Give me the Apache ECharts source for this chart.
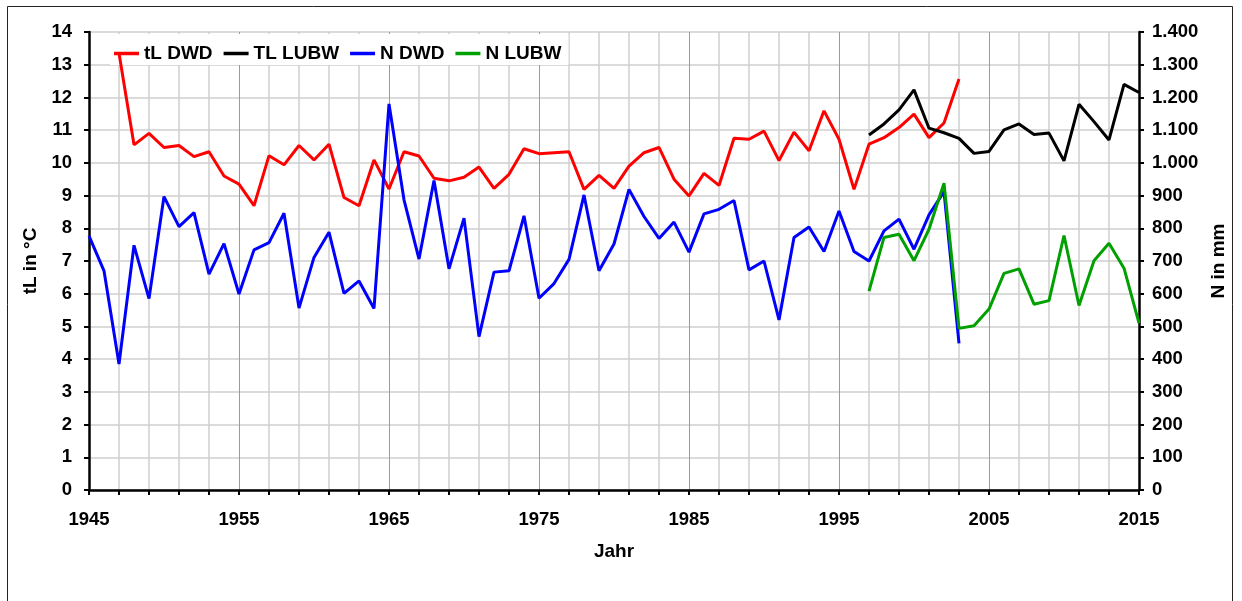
<!DOCTYPE html>
<html>
<head>
<meta charset="utf-8">
<script src="https://cdn.jsdelivr.net/npm/echarts@6/dist/echarts.min.js"></script>
<style>
html,body{margin:0;padding:0;background:#fff;}
#chart{width:1242px;height:601px;}
</style>
</head>
<body>
<div id="chart"></div>
<script>
// ---- data ----
var seriesNames = ['tL DWD', 'TL LUBW', 'N DWD', 'N LUBW'];

var tlDwdStart = 1947;
var tlDwd = [13.35, 10.55, 10.90, 10.47, 10.53, 10.19, 10.34, 9.60, 9.35, 8.69,
  10.22, 9.94, 10.53, 10.09, 10.57, 8.94, 8.69, 10.09, 9.20, 10.34,
  10.21, 9.53, 9.45, 9.56, 9.87, 9.22, 9.65, 10.43, 10.28, 10.31,
  10.34, 9.19, 9.62, 9.22, 9.90, 10.31, 10.47, 9.50, 8.99, 9.68,
  9.31, 10.75, 10.72, 10.97, 10.07, 10.94, 10.37, 11.59, 10.72, 9.19,
  10.57, 10.77, 11.08, 11.49, 10.77, 11.22, 12.56];

var tlLubwStart = 1997;
var tlLubw = [10.85, 11.19, 11.62, 12.23, 11.06, 10.92, 10.75, 10.29, 10.35, 11.01,
  11.19, 10.87, 10.91, 10.06, 11.79, 11.26, 10.70, 12.40, 12.15];

var nDwdStart = 1945;
var nDwd = [777, 670, 385, 748, 585, 897, 805, 848, 660, 753,
  599, 734, 756, 846, 556, 711, 788, 601, 639, 555,
  1180, 887, 706, 946, 676, 831, 469, 666, 670, 838,
  586, 631, 705, 902, 670, 752, 919, 836, 769, 819,
  727, 844, 858, 885, 673, 700, 520, 772, 804, 729,
  853, 729, 700, 792, 828, 736, 841, 912, 448];

var nLubwStart = 1997;
var nLubw = [608, 772, 782, 701, 797, 938, 494, 502, 553, 662,
  676, 568, 579, 778, 564, 701, 754, 678, 510];

var xMin = 1945, xMax = 2015, xStep = 10;
var leftMin = 0, leftMax = 14, leftStep = 1;
var rightMin = 0, rightMax = 1400, rightStep = 100;

// ---- helpers ----
function pairs(start, vals) {
  return vals.map(function (v, i) { return [start + i, v]; });
}
function germanThousands(v) {
  if (v >= 1000) {
    var r = String(v % 1000);
    while (r.length < 3) r = '0' + r;
    return Math.floor(v / 1000) + '.' + r;
  }
  return String(v);
}

var FONT = '"Liberation Sans", Arial, sans-serif';
var chart = echarts.init(document.getElementById('chart'), null, {renderer: 'canvas'});

var option = {
  animation: false,
  backgroundColor: '#fff',
  graphic: [{
    type: 'rect',
    shape: {x: 7.5, y: 6.5, width: 1225, height: 700},
    style: {fill: 'none', stroke: '#222', lineWidth: 1},
    silent: true,
    z: -10
  }],
  grid: {left: 89, right: 103, top: 32, bottom: 111, containLabel: false},
  legend: {
    z: 1,
    left: 110,
    top: 34,
    icon: 'rect',
    itemWidth: 25,
    itemHeight: 3.5,
    itemGap: 11,
    padding: [10, 7, 2, 4],
    backgroundColor: '#fff',
    textStyle: {fontFamily: FONT, fontWeight: 'bold', fontSize: 19, color: '#000'},
    data: seriesNames
  },
  xAxis: {
    type: 'value',
    min: xMin, max: xMax, interval: xStep,
    name: 'Jahr',
    nameLocation: 'middle',
    nameGap: 52,
    nameTextStyle: {fontFamily: FONT, fontWeight: 'bold', fontSize: 19, color: '#000'},
    axisLine: {show: true, onZero: false, lineStyle: {color: '#000', width: 2.5}},
    axisTick: {show: true, inside: false, length: 5, lineStyle: {color: '#000', width: 2}},
    minorTick: {show: true, splitNumber: 5, length: 5, lineStyle: {color: '#000', width: 2}},
    axisLabel: {margin: 20, fontFamily: FONT, fontWeight: 'bold', fontSize: 18.5, color: '#000',
      formatter: function (v) { return String(v); }},
    splitLine: {show: true, lineStyle: {color: '#9a9a9a', width: 1}},
    minorSplitLine: {show: true, lineStyle: {color: '#cfcfcf', width: 1.5}}
  },
  yAxis: [{
    type: 'value',
    position: 'left',
    min: leftMin, max: leftMax, interval: leftStep,
    name: 'tL in °C',
    nameLocation: 'middle',
    nameGap: 49,
    nameRotate: 90,
    nameTextStyle: {fontFamily: FONT, fontWeight: 'bold', fontSize: 19, color: '#000'},
    axisLine: {show: true, lineStyle: {color: '#000', width: 2.5}},
    axisTick: {show: true, inside: false, length: 5, lineStyle: {color: '#000', width: 2}},
    axisLabel: {margin: 17, fontFamily: FONT, fontWeight: 'bold', fontSize: 18.5, color: '#000'},
    splitLine: {show: true, lineStyle: {color: '#cfcfcf', width: 1.5}}
  }, {
    type: 'value',
    position: 'right',
    min: rightMin, max: rightMax, interval: rightStep,
    name: 'N in mm',
    nameLocation: 'middle',
    nameGap: 66,
    nameRotate: 90,
    nameTextStyle: {fontFamily: FONT, fontWeight: 'bold', fontSize: 19, color: '#000'},
    axisLine: {show: true, lineStyle: {color: '#000', width: 2.5}},
    axisTick: {show: true, inside: false, length: 5, lineStyle: {color: '#000', width: 2}},
    axisLabel: {margin: 13, fontFamily: FONT, fontWeight: 'bold', fontSize: 18.5, color: '#000',
      formatter: germanThousands},
    splitLine: {show: false}
  }],
  series: [{
    name: seriesNames[0], type: 'line', yAxisIndex: 0, symbol: 'none', z: 3,
    data: pairs(tlDwdStart, tlDwd),
    lineStyle: {color: '#ff0000', width: 3}, itemStyle: {color: '#ff0000'}
  }, {
    name: seriesNames[1], type: 'line', yAxisIndex: 0, symbol: 'none', z: 3,
    data: pairs(tlLubwStart, tlLubw),
    lineStyle: {color: '#000000', width: 3}, itemStyle: {color: '#000000'}
  }, {
    name: seriesNames[2], type: 'line', yAxisIndex: 1, symbol: 'none', z: 3,
    data: pairs(nDwdStart, nDwd),
    lineStyle: {color: '#0000ff', width: 3}, itemStyle: {color: '#0000ff'}
  }, {
    name: seriesNames[3], type: 'line', yAxisIndex: 1, symbol: 'none', z: 3,
    data: pairs(nLubwStart, nLubw),
    lineStyle: {color: '#00a000', width: 3}, itemStyle: {color: '#00a000'}
  }]
};
chart.setOption(option);
</script>
</body>
</html>
